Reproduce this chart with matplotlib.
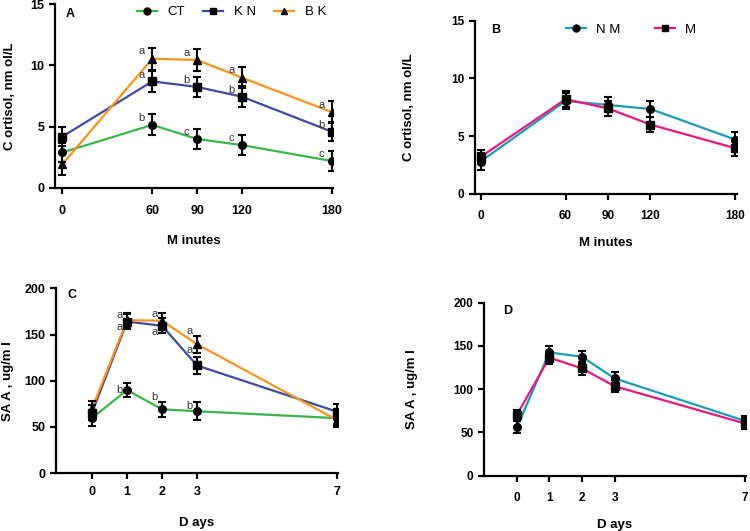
import matplotlib
matplotlib.use("Agg")
from matplotlib import pyplot as plt
from matplotlib.lines import Line2D

plt.rcParams['font.family'] = ['Liberation Sans', 'DejaVu Sans']

# ---- panel A / B : cortisol ----
minutes = [0, 60, 90, 120, 180]
ct_cort = [2.9, 5.15, 4.0, 3.5, 2.2]
ct_cort_err = [0.8, 0.85, 0.85, 0.82, 0.85]
kn_cort = [4.2, 8.7, 8.25, 7.45, 4.6]
kn_cort_err = [0.8, 0.85, 0.8, 0.85, 0.8]
bk_cort = [1.95, 10.55, 10.45, 9.0, 6.2]
bk_cort_err = [0.87, 0.9, 0.9, 0.87, 0.9]
ct_cort_lbl = ['', 'b', 'c', 'c', 'c']
kn_cort_lbl = ['', 'a', 'b', 'b', 'b']
bk_cort_lbl = ['', 'a', 'a', 'a', 'a']

nm_cort = [2.8, 8.05, 7.7, 7.35, 4.7]
nm_cort_err = [0.7, 0.7, 0.65, 0.72, 0.65]
m_cort = [3.2, 8.2, 7.4, 6.0, 3.95]
m_cort_err = [0.6, 0.7, 0.65, 0.68, 0.7]

# ---- panel C / D : SAA ----
days = [0, 1, 2, 3, 7]
ct_saa = [59.5, 90, 69, 67, 59.5]
ct_saa_err = [9, 8, 8.5, 9.5, 9]
kn_saa = [65.5, 164, 159.5, 116.5, 66.5]
kn_saa_err = [8, 8, 8, 9, 8]
bk_saa = [70, 165.5, 165, 139.5, 57.5]
bk_saa_err = [8, 8, 8, 9, 8]
ct_saa_lbl = ['', 'b', 'b', 'b', '']
kn_saa_lbl = ['', 'a', 'a', 'a', '']
bk_saa_lbl = ['', 'a', 'a', 'a', '']

nm_saa = [56, 142.5, 137.5, 112.5, 63.5]
nm_saa_err = [7, 7, 7, 7.5, 6]
m_saa = [70.5, 136.5, 124, 103.5, 60.5]
m_saa_err = [6, 7, 7, 7, 6]

green = '#3cb44b'
blue = '#3f4aa0'
orange = '#f7931e'
teal = '#1d9bb5'
pink = '#e6197d'


def style(ax, xticks, xlim, ylim, yticks, xlab, ylab, ylab_x, xlab_y, tsize=9, xpad=8):
    ax.set_xlim(xlim)
    ax.set_ylim(ylim)
    ax.set_xticks(xticks)
    ax.set_yticks(yticks)
    for s in ['top', 'right']:
        ax.spines[s].set_visible(False)
    for s in ['left', 'bottom']:
        ax.spines[s].set_linewidth(1.6)
    ax.tick_params(width=1.6, length=4, labelsize=tsize)
    ax.tick_params(axis='x', pad=xpad)
    for t in ax.get_xticklabels() + ax.get_yticklabels():
        t.set_fontweight('bold')
    ax.set_xlabel(xlab, fontsize=9.5, fontweight='bold')
    ax.xaxis.set_label_coords(0.5, xlab_y)
    ax.set_ylabel(ylab, fontsize=9.5, fontweight='bold')
    ax.yaxis.set_label_coords(ylab_x, 0.5)


def series(ax, x, y, e, color, marker, ms=5.5):
    ax.plot(x, y, color=color, lw=1.6, zorder=2)
    ax.errorbar(x, y, yerr=e, fmt=marker, color='black', ms=ms,
                ecolor='black', elinewidth=1.5, capsize=3, capthick=1.5, zorder=3)


def letters(ax, x, y, lbl, dx, dy):
    if not isinstance(dy, list):
        dy = [dy] * len(x)
    for xi, yi, s, d in zip(x, y, lbl, dy):
        if s:
            ax.text(xi - dx, yi + d, s, fontsize=8, color='#333333',
                    ha='center', va='center')


def legend(ax, handles, names, x, y, colsp):
    ax.legend(handles, names, loc='center left', bbox_to_anchor=(x, y),
              ncol=len(names), frameon=False, fontsize=9.5, handlelength=1.5,
              columnspacing=colsp, handletextpad=0.8, borderpad=0,
              borderaxespad=0)


fig = plt.figure(figsize=(7.5, 5.31), dpi=100)
axA = fig.add_axes([0.0733, 0.646, 0.371, 0.346])
axB = fig.add_axes([0.6333, 0.635, 0.349, 0.326])
axC = fig.add_axes([0.0747, 0.109, 0.376, 0.348])
axD = fig.add_axes([0.6453, 0.104, 0.349, 0.326])

# A
series(axA, minutes, ct_cort, ct_cort_err, green, 'o')
series(axA, minutes, kn_cort, kn_cort_err, blue, 's')
series(axA, minutes, bk_cort, bk_cort_err, orange, '^')
letters(axA, minutes, ct_cort, ct_cort_lbl, 7, 0.6)
letters(axA, minutes, kn_cort, kn_cort_lbl, 7, 0.55)
letters(axA, minutes, bk_cort, bk_cort_lbl, 7, 0.6)
style(axA, minutes, (-5, 181), (0, 15), [0, 5, 10, 15],
      'M inutes', 'C ortisol, nm ol/L', -0.140, -0.255)
axA.text(0.04, 0.946, 'A', transform=axA.transAxes, fontsize=9,
         fontweight='bold', va='center')
hA = [Line2D([], [], color=c, marker=m, mfc='black', mec='black', ms=5, lw=1.6)
      for c, m in [(green, 'o'), (blue, 's'), (orange, '^')]]
legend(axA, hA, ['CT', 'K N', 'B K'], 0.295, 0.957, 1.4)

# B
series(axB, minutes, nm_cort, nm_cort_err, teal, 'o')
series(axB, minutes, m_cort, m_cort_err, pink, 's')
style(axB, minutes, (-4, 181), (0, 15), [0, 5, 10, 15],
      'M inutes', 'C ortisol, nm ol/L', -0.229, -0.249, tsize=8.5)
axB.text(0.061, 0.948, 'B', transform=axB.transAxes, fontsize=9,
         fontweight='bold', va='center')
hB = [Line2D([], [], color=c, marker=m, mfc='black', mec='black', ms=5, lw=1.6)
      for c, m in [(teal, 'o'), (pink, 's')]]
legend(axB, hB, ['N M', 'M'], 0.347, 0.948, 2.6)

# C
series(axC, days, ct_saa, ct_saa_err, green, 'o')
series(axC, days, kn_saa, kn_saa_err, blue, 's')
series(axC, days, bk_saa, bk_saa_err, orange, '^')
letters(axC, days, ct_saa, ct_saa_lbl, 0.22, [0, 0, 13, 6, 0])
letters(axC, days, kn_saa, kn_saa_lbl, 0.22, [0, -6, -6.5, 17, 0])
letters(axC, days, bk_saa, bk_saa_lbl, 0.22, [0, 6, 7, 14, 0])
style(axC, days, (-1.03, 7.03), (0, 200), [0, 50, 100, 150, 200],
      'D ays', 'SA A , ug/m l', -0.149, -0.238, xpad=5)
axC.text(0.039, 0.962, 'C', transform=axC.transAxes, fontsize=9,
         fontweight='bold', va='center')

# D
series(axD, days, nm_saa, nm_saa_err, teal, 'o')
series(axD, days, m_saa, m_saa_err, pink, 's')
style(axD, days, (-1.01, 7.03), (0, 200), [0, 50, 100, 150, 200],
      'D ays', 'SA A , ug/m l', -0.252, -0.249, tsize=8.5)
axD.text(0.073, 0.954, 'D', transform=axD.transAxes, fontsize=9,
         fontweight='bold', va='center')

fig.savefig('out.png', dpi=100)
